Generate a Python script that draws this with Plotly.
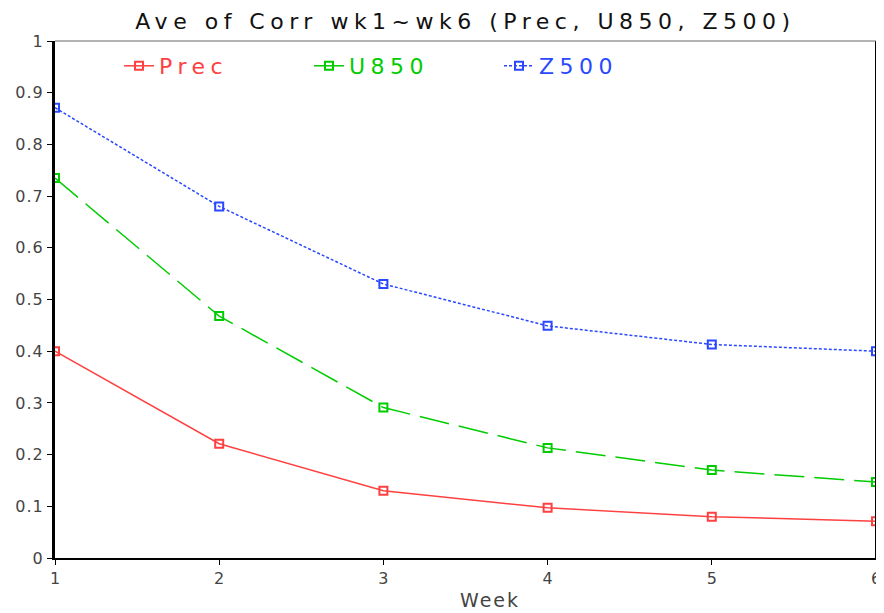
import plotly.graph_objects as go

weeks = [1, 2, 3, 4, 5, 6]
prec = [0.400, 0.221, 0.130, 0.097, 0.080, 0.071]
u850 = [0.735, 0.468, 0.291, 0.213, 0.170, 0.147]
z500 = [0.871, 0.680, 0.530, 0.449, 0.413, 0.400]
y_ticks = [0, 0.1, 0.2, 0.3, 0.4, 0.5, 0.6, 0.7, 0.8, 0.9, 1]
y_tick_text = ["0", "0.1", "0.2", "0.3", "0.4", "0.5", "0.6", "0.7", "0.8", "0.9", "1"]

RED = "#FF4040"
GREEN = "#00CC00"
BLUE = "#2A48FF"

FONT = "DejaVu Sans"

# The page body has an 8px margin, so the figure is sized to fit inside the window.
W, H = 876, 605
L, R, T, B = 47, 8, 33, 55
PW, PH = W - L - R, H - T - B


def spaced(t, px, color=None):
    st = f"letter-spacing:{px}px"
    if color:
        st += f";color:{color}"
    return f"<span style='{st}'>{t}</span>"


fig = go.Figure()


def add(name, y, color, dash):
    fig.add_trace(go.Scatter(
        x=weeks, y=y, mode="lines+markers",
        name=spaced(name, 5.5, color),
        line=dict(color=color, width=1.5, dash=dash),
        marker=dict(symbol="square-open", size=8, color=color, line=dict(width=2, color=color)),
        cliponaxis=True,
    ))


add("Prec", prec, RED, "solid")
add("U850", u850, GREEN, "30px,10px")
add("Z500", z500, BLUE, "3px,2px")

fig.update_layout(
    width=W, height=H,
    margin=dict(l=L, r=R, t=T, b=B, autoexpand=False),
    paper_bgcolor="white", plot_bgcolor="white",
    font=dict(family=FONT, color="#333333"),
    title=dict(text=spaced("Ave of Corr wk1~wk6 (Prec, U850, Z500)", 5.5),
               x=0.5, xref="paper", y=1 - 13 / H, yref="container", yanchor="middle",
               font=dict(size=22, color="#111111", family=FONT)),
    showlegend=True,
    legend=dict(orientation="h", x=(133 - 8 - 14 - L) / PW, y=1 - 4 / PH,
                xanchor="left", yanchor="top",
                bgcolor="rgba(0,0,0,0)", font=dict(size=22, family=FONT),
                entrywidth=145, entrywidthmode="pixels"),
    xaxis=dict(range=[1, 6], tickvals=weeks, ticks="outside", ticklen=5,
               tickcolor="black", showline=True, linecolor="black", linewidth=2,
               mirror=False, showgrid=False, zeroline=False, automargin=False,
               tickfont=dict(size=16, color="#444444")),
    yaxis=dict(range=[0, 1], tickvals=y_ticks, ticktext=[spaced(t, 1) for t in y_tick_text],
               ticks="outside", ticklen=5, tickcolor="black", showline=True,
               linecolor="black", linewidth=3, showgrid=False, zeroline=False,
               automargin=False, tickfont=dict(size=16, color="#444444")),
)
fig.add_annotation(text=spaced("Week", 2), xref="paper", yref="paper",
                   x=(482 - L) / PW, y=-42 / PH, xanchor="center", yanchor="middle",
                   showarrow=False, font=dict(size=19, color="#444444", family=FONT))
# right border (black) and top border (gray) of the frame
fig.add_shape(type="line", xref="paper", yref="paper", x0=1, x1=1, y0=0, y1=1,
              line=dict(color="black", width=2))
fig.add_shape(type="line", xref="paper", yref="paper", x0=0, x1=1, y0=1, y1=1,
              line=dict(color="#666666", width=1))

fig.write_html("out.html")
